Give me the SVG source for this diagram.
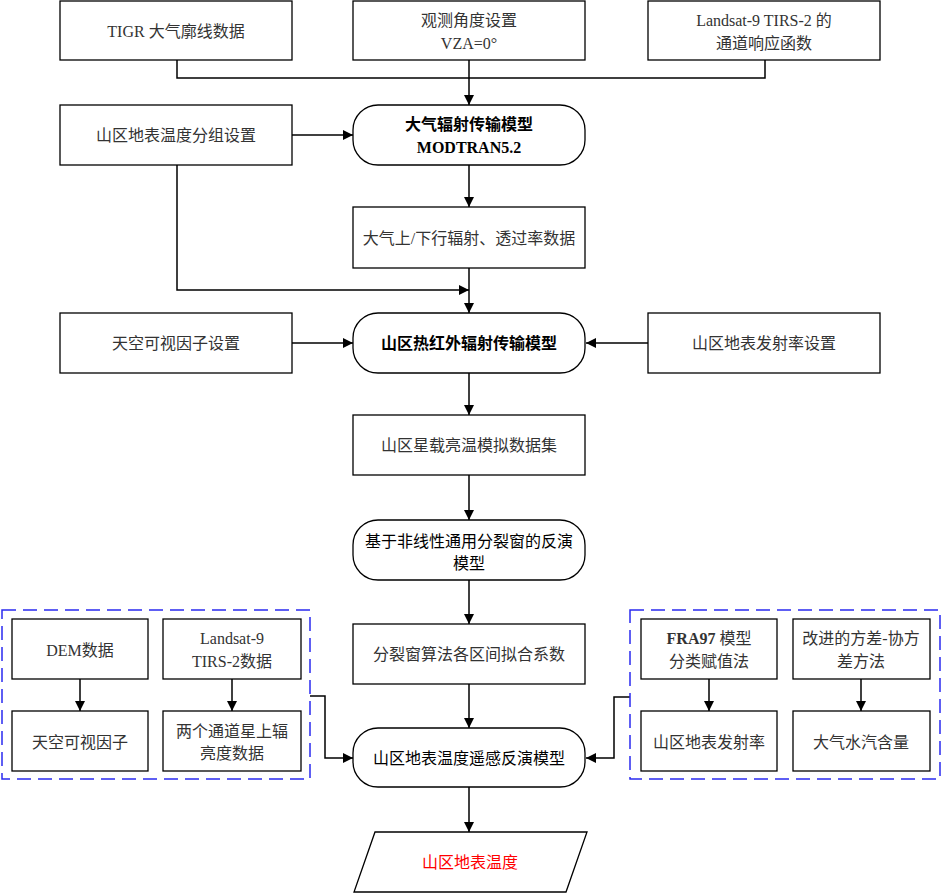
<svg xmlns="http://www.w3.org/2000/svg" width="943" height="893" viewBox="0 0 943 893">
<style>
.box{fill:#fff;stroke:#000;stroke-width:1.3}
.rbox{fill:#fff;stroke:#000;stroke-width:1.3}
.dash{fill:none;stroke:#2a2af0;stroke-width:1.5;stroke-dasharray:14 7}
.t{font-family:"Liberation Serif","Noto Sans CJK SC",serif;font-size:16px;fill:#333;text-anchor:middle;dominant-baseline:central}
.b{fill:#000;font-weight:bold}
.red{fill:#ff0000}
.c{fill:none;stroke:#000;stroke-width:1.5}
</style>
<defs>
<marker id="ah" markerWidth="10" markerHeight="10" refX="10" refY="5" orient="auto" markerUnits="userSpaceOnUse">
<path d="M0,0 L10,5 L0,10 Z" fill="#000"/>
</marker>
</defs>
<rect width="943" height="893" fill="#fff"/>
<g id="connectors">
<polyline class="c" points="177,60 177,78 765,78 765,60"/>
<line class="c" x1="469" y1="60" x2="469" y2="105" marker-end="url(#ah)"/>
<line class="c" x1="292" y1="135" x2="353" y2="135" marker-end="url(#ah)"/>
<line class="c" x1="469" y1="165" x2="469" y2="207" marker-end="url(#ah)"/>
<polyline class="c" points="177,165 177,290 469,290" marker-end="url(#ah)"/>
<line class="c" x1="469" y1="268" x2="469" y2="313" marker-end="url(#ah)"/>
<line class="c" x1="292" y1="343" x2="353" y2="343" marker-end="url(#ah)"/>
<line class="c" x1="648" y1="343" x2="586" y2="343" marker-end="url(#ah)"/>
<line class="c" x1="469" y1="373" x2="469" y2="415" marker-end="url(#ah)"/>
<line class="c" x1="469" y1="475" x2="469" y2="520" marker-end="url(#ah)"/>
<line class="c" x1="469" y1="580" x2="469" y2="624" marker-end="url(#ah)"/>
<line class="c" x1="469" y1="684" x2="469" y2="728" marker-end="url(#ah)"/>
<line class="c" x1="469" y1="787" x2="469" y2="832" marker-end="url(#ah)"/>
<polyline class="c" points="310,696 325,696 325,758 353,758" marker-end="url(#ah)"/>
<polyline class="c" points="630,697 614,697 614,758 586,758" marker-end="url(#ah)"/>
<line class="c" x1="80" y1="679" x2="80" y2="711" marker-end="url(#ah)"/>
<line class="c" x1="232" y1="679" x2="232" y2="711" marker-end="url(#ah)"/>
<line class="c" x1="709" y1="679" x2="709" y2="711" marker-end="url(#ah)"/>
<line class="c" x1="861" y1="679" x2="861" y2="711" marker-end="url(#ah)"/>
</g>
<g id="n_tigr"><rect class="box" x="60" y="1" width="232" height="59"/><text class="t" x="176" y="31">TIGR 大气廓线数据</text></g>
<g id="n_vza"><rect class="box" x="353" y="1" width="232" height="59"/><text class="t" x="469" y="20">观测角度设置</text><text class="t" x="469" y="43">VZA=0°</text></g>
<g id="n_srf"><rect class="box" x="648" y="1" width="232" height="59"/><text class="t" x="764" y="20">Landsat-9 TIRS-2 的</text><text class="t" x="764" y="43">通道响应函数</text></g>
<g id="n_group"><rect class="box" x="60" y="105" width="232" height="60"/><text class="t" x="176" y="135">山区地表温度分组设置</text></g>
<g id="n_modtran"><rect class="rbox" x="353" y="105" width="232" height="60" rx="25"/><text class="t b" x="469" y="124">大气辐射传输模型</text><text class="t b" x="469" y="147">MODTRAN5.2</text></g>
<g id="n_atm"><rect class="box" x="353" y="207" width="232" height="61"/><text class="t" x="469" y="238">大气上/下行辐射、透过率数据</text></g>
<g id="n_svf_set"><rect class="box" x="60" y="313" width="232" height="60"/><text class="t" x="176" y="343">天空可视因子设置</text></g>
<g id="n_tir"><rect class="rbox" x="353" y="313" width="232" height="60" rx="25"/><text class="t b" x="469" y="343">山区热红外辐射传输模型</text></g>
<g id="n_emis_set"><rect class="box" x="648" y="313" width="232" height="60"/><text class="t" x="764" y="343">山区地表发射率设置</text></g>
<g id="n_bt"><rect class="box" x="353" y="415" width="232" height="60"/><text class="t" x="469" y="445">山区星载亮温模拟数据集</text></g>
<g id="n_nlsw"><rect class="rbox" x="353" y="520" width="232" height="60" rx="25"/><text class="t" x="469" y="541" style="fill:#000">基于非线性通用分裂窗的反演</text><text class="t" x="469" y="563" style="fill:#000">模型</text></g>
<g id="n_coef"><rect class="box" x="353" y="624" width="232" height="60"/><text class="t" x="469" y="654">分裂窗算法各区间拟合系数</text></g>
<g id="n_lst_model"><rect class="rbox" x="353" y="728" width="232" height="59" rx="25"/><text class="t" x="469" y="758" style="fill:#000">山区地表温度遥感反演模型</text></g>
<g id="n_lst"><polygon class="box" points="375,832 587,832 566,892 354,892"/><text class="t red" x="470" y="862">山区地表温度</text></g>
<g id="g_left"><rect class="dash" x="2" y="610" width="308" height="169"/>
<g id="n_dem"><rect class="box" x="12" y="619" width="136" height="60"/><text class="t" x="80" y="650">DEM数据</text></g>
<g id="n_landsat"><rect class="box" x="163" y="619" width="138" height="60"/><text class="t" x="232" y="638">Landsat-9</text><text class="t" x="232" y="661">TIRS-2数据</text></g>
<g id="n_svf"><rect class="box" x="12" y="711" width="136" height="60"/><text class="t" x="80" y="742">天空可视因子</text></g>
<g id="n_rad"><rect class="box" x="163" y="711" width="138" height="60"/><text class="t" x="232" y="731">两个通道星上辐</text><text class="t" x="232" y="753">亮度数据</text></g>
</g>
<g id="g_right"><rect class="dash" x="630" y="610" width="310" height="169"/>
<g id="n_fra"><rect class="box" x="641" y="619" width="136" height="60"/><text class="t" x="709" y="638"><tspan font-weight="bold">FRA97</tspan> 模型</text><text class="t" x="709" y="661">分类赋值法</text></g>
<g id="n_mvcr"><rect class="box" x="793" y="619" width="137" height="60"/><text class="t" x="861" y="638">改进的方差-协方</text><text class="t" x="861" y="661">差方法</text></g>
<g id="n_emis"><rect class="box" x="641" y="711" width="136" height="60"/><text class="t" x="709" y="742">山区地表发射率</text></g>
<g id="n_wv"><rect class="box" x="793" y="711" width="137" height="60"/><text class="t" x="861" y="742">大气水汽含量</text></g>
</g>
</svg>
